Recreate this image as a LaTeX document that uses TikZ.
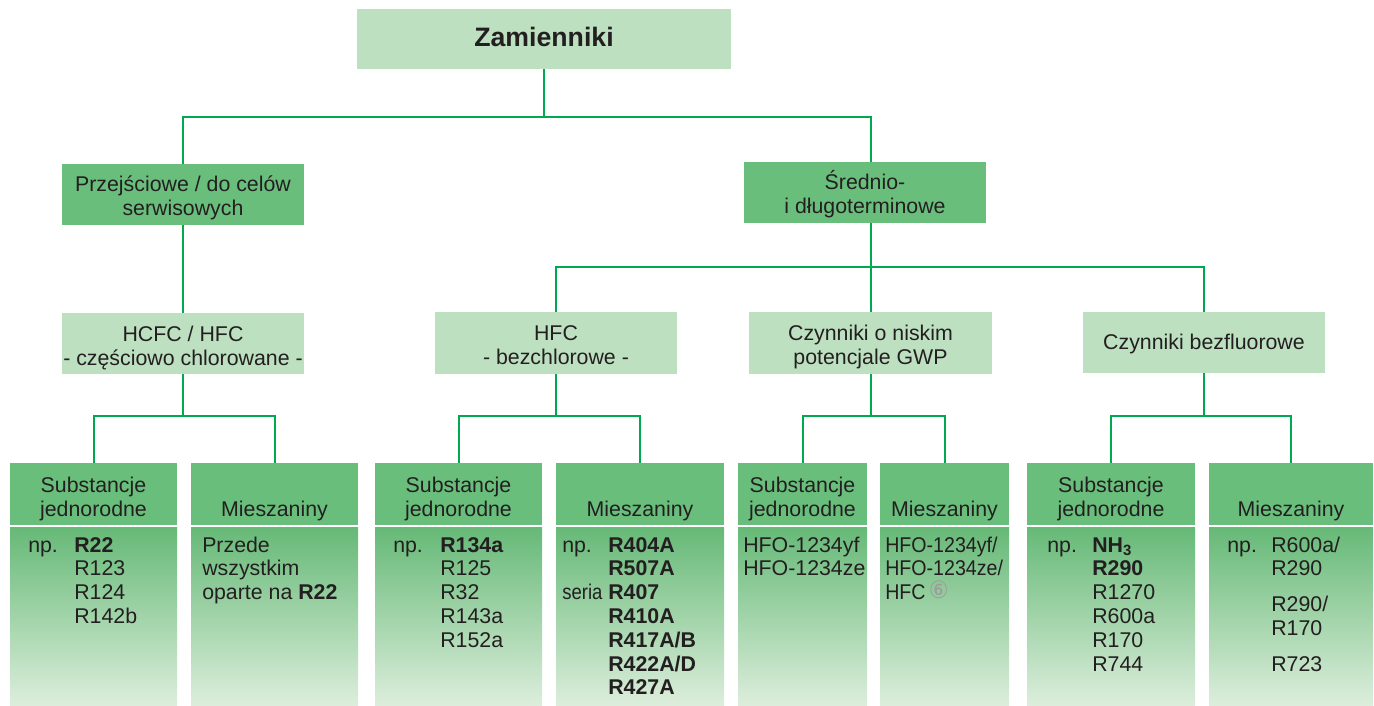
\documentclass[tikz,border=0pt]{standalone}
\usepackage{fontspec}
\usepackage{graphicx}
\setmainfont{Liberation Sans}
\newfontfamily\circfont{DejaVu Sans}
\usetikzlibrary{fit}

\definecolor{lightgreen}{HTML}{BDE0C0}
\definecolor{midgreen}{HTML}{69BE7C}
\definecolor{linegreen}{HTML}{00A84F}
\definecolor{bodytop}{HTML}{66B977}
\definecolor{bodybottom}{HTML}{DDEEDC}
\definecolor{textgray}{HTML}{231F20}
\definecolor{circgray}{HTML}{9C9C9C}

\newcommand{\lista}[2][l]{\begin{tabular}[t]{@{}#1@{}}#2\end{tabular}}
\newcommand{\przypis}[1]{\,\smash{\raisebox{1pt}{\circfont\fontsize{18}{18}\selectfont\color{circgray}#1}}}

\tikzset{
  panel/.style={inner sep=0pt, outer sep=0pt},
  lightbox/.style={panel, fill=lightgreen},
  midbox/.style={panel, fill=midgreen},
  bodybox/.style={inner sep=0pt, outer sep=0pt, top color=bodytop, bottom color=bodybottom},
  conn/.style={draw=linegreen, line width=1.5pt},
  head/.style={anchor=base, inner sep=0pt, font=\fontsize{16}{18.5}\selectfont},
  title/.style={head, font=\fontsize{16}{18}\selectfont},
  item/.style={anchor=base west, inner sep=0pt, font=\fontsize{16}{17.85}\selectfont},
}

\begin{document}
\begin{tikzpicture}[x=0.75pt, y=-0.75pt, text=textgray]
\useasboundingbox (0,0) rectangle (1374,706);

% upper levels
\node[lightbox, fit={(357,9) (731,69)}] (zam) {};
\node[midbox, fit={(62,164) (304,225)}] (trans) {};
\node[midbox, fit={(744,162) (986,223)}] (term) {};
\node[lightbox, fit={(62,313) (304,374)}] (hcfc) {};
\node[lightbox, fit={(435,312) (677,374)}] (hfc) {};
\node[lightbox, fit={(749,312) (992,374)}] (nisk) {};
\node[lightbox, fit={(1083,312) (1325,373)}] (bez) {};

\node[head, font=\fontsize{20}{24}\selectfont\bfseries] (zamt) at ([shift={(0,37.7)}]zam.north) {Zamienniki};
\node[title] (transt) at ([shift={(0,27.7)}]trans.north) {\lista[c]{Przejściowe / do celów\\serwisowych}};
\node[title] (termt) at ([shift={(0,28)}]term.north) {\lista[c]{Średnio-\\i długoterminowe}};
\node[title] (hcfct) at ([shift={(0,28)}]hcfc.north) {\lista[c]{HCFC / HFC\\- częściowo chlorowane -}};
\node[title] (hfct) at ([shift={(0,28)}]hfc.north) {\lista[c]{HFC\\- bezchlorowe -}};
\node[title] (niskt) at ([shift={(0,28)}]nisk.north) {\lista[c]{Czynniki o niskim\\potencjale GWP}};
\node[title] (bezt) at ([shift={(0,37.3)}]bez.north) {Czynniki bezfluorowe};

% bottom columns: header and body
\node[midbox, fit={(10,463) (177,525)}] (s1h) {};
\node[bodybox, fit={(10,527) (177,706)}] (s1b) {};
\node[midbox, fit={(191,463) (358,525)}] (m1h) {};
\node[bodybox, fit={(191,527) (358,706)}] (m1b) {};
\node[midbox, fit={(375,463) (542,525)}] (s2h) {};
\node[bodybox, fit={(375,527) (542,706)}] (s2b) {};
\node[midbox, fit={(556,463) (724,525)}] (m2h) {};
\node[bodybox, fit={(556,527) (724,706)}] (m2b) {};
\node[midbox, fit={(738,463) (867,525)}] (s3h) {};
\node[bodybox, fit={(738,527) (867,706)}] (s3b) {};
\node[midbox, fit={(880,463) (1009,525)}] (m3h) {};
\node[bodybox, fit={(880,527) (1009,706)}] (m3b) {};
\node[midbox, fit={(1027,463) (1195,525)}] (s4h) {};
\node[bodybox, fit={(1027,527) (1195,706)}] (s4b) {};
\node[midbox, fit={(1209,463) (1373,525)}] (m4h) {};
\node[bodybox, fit={(1209,527) (1373,706)}] (m4b) {};

% header texts
\node[head] (s1t) at ([shift={(0,29)}]s1h.north) {\lista[c]{Substancje\\jednorodne}};
\node[head] (m1t) at ([shift={(0,53)}]m1h.north) {Mieszaniny};
\node[head] (s2t) at ([shift={(0,29)}]s2h.north) {\lista[c]{Substancje\\jednorodne}};
\node[head] (m2t) at ([shift={(0,53)}]m2h.north) {Mieszaniny};
\node[head] (s3t) at ([shift={(0,29)}]s3h.north) {\lista[c]{Substancje\\jednorodne}};
\node[head] (m3t) at ([shift={(0,53)}]m3h.north) {Mieszaniny};
\node[head] (s4t) at ([shift={(0,29)}]s4h.north) {\lista[c]{Substancje\\jednorodne}};
\node[head] (m4t) at ([shift={(0,53)}]m4h.north) {Mieszaniny};

% body texts
\node[item] (s1np) at ([shift={(18,25)}]s1b.north west) {np.};
\node[item] (s1l) at ([shift={(64,25)}]s1b.north west) {\lista{\textbf{R22}\\R123\\R124\\R142b}};
\node[item] (m1l) at ([shift={(11,25)}]m1b.north west) {\lista{Przede\\wszystkim\\oparte na \textbf{R22}}};
\node[item] (s2np) at ([shift={(18,25)}]s2b.north west) {np.};
\node[item] (s2l) at ([shift={(65,25)}]s2b.north west) {\lista{\textbf{R134a}\\R125\\R32\\R143a\\R152a}};
\node[item] (m2np) at ([shift={(6,25)}]m2b.north west) {\lista{np.\\ \\\scalebox{0.87}[1]{seria}}};
\node[item] (m2l) at ([shift={(52,25)}]m2b.north west) {\lista{\textbf{R404A}\\\textbf{R507A}\\\textbf{R407}\\\textbf{R410A}\\\textbf{R417A/B}\\\textbf{R422A/D}\\\textbf{R427A}}};
\node[item] (s3l) at ([shift={(5,25)}]s3b.north west) {\lista{HFO-1234yf\\HFO-1234ze}};
\node[item] (m3l) at ([shift={(5,25)}]m3b.north west) {\scalebox{0.92}[1]{\lista{HFO-1234yf/\\HFO-1234ze/\\HFC\przypis{⑥}}}};
\node[item] (s4np) at ([shift={(20,25)}]s4b.north west) {np.};
\node[item] (s4l) at ([shift={(65,25)}]s4b.north west) {\lista{\textbf{NH\textsubscript{3}}\\\textbf{R290}\\R1270\\R600a\\R170\\R744}};
\node[item] (m4np) at ([shift={(18,25)}]m4b.north west) {np.};
\node[item] (m4l) at ([shift={(62,25)}]m4b.north west) {\lista{R600a/\\R290\\[9pt]R290/\\R170\\[9pt]R723}};

% connectors
\draw[conn] (zam.south) -- ++(0,48) coordinate (b1);
\draw[conn] (trans.north) |- (b1) -| (term.north -| nisk.north);
\draw[conn] (trans.south) -- (hcfc.north);
\draw[conn] (term.south -| nisk.north) -- ++(0,44) coordinate (b2) -- (nisk.north);
\draw[conn] (hfc.north) |- (b2) -| (bez.north);
\draw[conn] (hcfc.south) -- ++(0,42) coordinate (b3);
\draw[conn] (s1h.north) |- (b3) -| (m1h.north);
\draw[conn] (hfc.south) -- ++(0,42) coordinate (b4);
\draw[conn] (s2h.north) |- (b4) -| (m2h.north);
\draw[conn] (nisk.south) -- ++(0,42) coordinate (b5);
\draw[conn] (s3h.north) |- (b5) -| (m3h.north);
\draw[conn] (bez.south) -- ++(0,43) coordinate (b6);
\draw[conn] (s4h.north) |- (b6) -| (m4h.north);
\end{tikzpicture}
\end{document}
